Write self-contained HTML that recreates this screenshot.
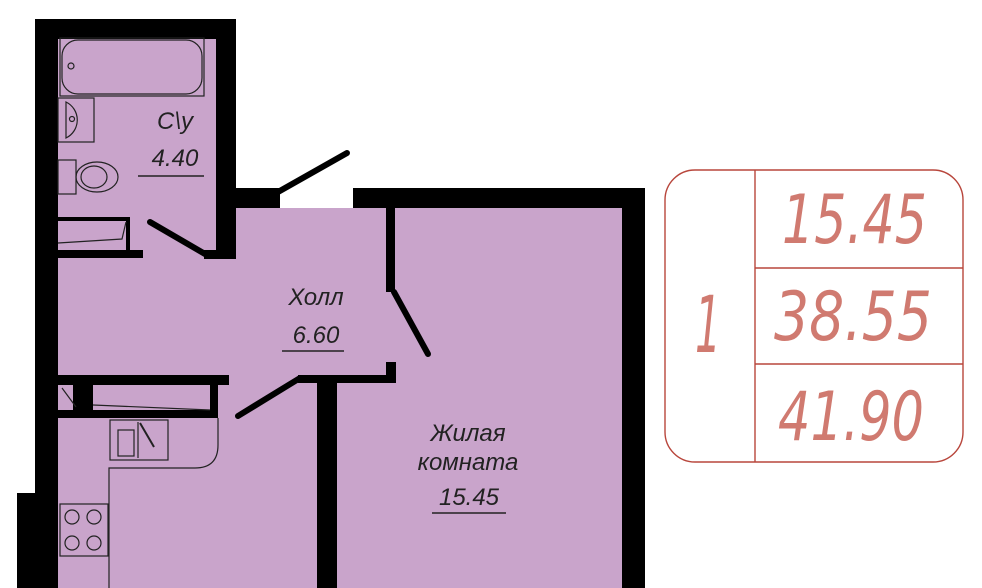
<!DOCTYPE html>
<html><head><meta charset="utf-8"><style>
html,body{margin:0;padding:0;background:#fff;}
svg{display:block}
.t{font-family:"Liberation Sans","DejaVu Sans",sans-serif;font-style:italic;fill:#222;}
.r{font-family:"DejaVu Sans","Liberation Sans",sans-serif;font-weight:200;font-style:oblique;fill:#d07a70;}
</style></head><body>
<svg width="982" height="588" viewBox="0 0 982 588" xmlns="http://www.w3.org/2000/svg">
<rect width="982" height="588" fill="#fff"/>
<path d="M58 38 H216 V208 H622 V588 H58 Z" fill="#c9a4cb"/>
<g fill="#000">
<rect x="35" y="19" width="23" height="569"/>
<rect x="17" y="493" width="41" height="95"/>
<rect x="35" y="19" width="201" height="20"/>
<rect x="216" y="19" width="20" height="240"/>
<rect x="216" y="188" width="64" height="20"/>
<rect x="353" y="188" width="292" height="20"/>
<rect x="622" y="188" width="23" height="400"/>
<rect x="386" y="208" width="9" height="84"/>
<rect x="58" y="250" width="85" height="8"/>
<rect x="204" y="250" width="32" height="9"/>
<rect x="58" y="375" width="171" height="10"/>
<rect x="58" y="410" width="160" height="8"/>
<rect x="73" y="385" width="20" height="25"/>
<rect x="210" y="385" width="8" height="25"/>
<rect x="298" y="375" width="98" height="8"/>
<rect x="386" y="362" width="10" height="21"/>
<rect x="317" y="383" width="20" height="205"/>
<rect x="58" y="217" width="72" height="4"/>
<rect x="126" y="217" width="4" height="35"/>
</g>
<g stroke="#000" stroke-width="6" stroke-linecap="round">
<line x1="278" y1="192" x2="347" y2="153"/>
<line x1="150" y1="222" x2="205" y2="254"/>
<line x1="394" y1="292" x2="428" y2="354"/>
<line x1="238" y1="416" x2="300" y2="378"/>
</g>
<g stroke="#222" stroke-width="1.2" fill="none">
<rect x="62" y="40" width="140" height="54" rx="16"/>
<rect x="60" y="38" width="144" height="58"/>
<circle cx="71" cy="66" r="3"/>
<rect x="58" y="98" width="36" height="44"/>
<path d="M66 102 A20 20 0 0 1 66 138 Z"/>
<circle cx="72" cy="119" r="2.5"/>
<rect x="58" y="160" width="18" height="34"/>
<ellipse cx="97" cy="177" rx="21" ry="15"/>
<ellipse cx="94" cy="177" rx="13" ry="11"/>
<path d="M58 243 L122 239 L126 222"/>
<path d="M62 388 L76 407 M93 405 L210 410"/>
<path d="M218 418 V445 Q218 468 195 468 H109 V588"/>
<rect x="110" y="420" width="58" height="40"/>
<line x1="138" y1="422" x2="138" y2="458"/>
<rect x="118" y="430" width="16" height="26"/>
<rect x="60" y="504" width="48" height="52"/>
<circle cx="72" cy="517" r="7"/><circle cx="94" cy="517" r="7"/>
<circle cx="72" cy="543" r="7"/><circle cx="94" cy="543" r="7"/>
</g>
<line x1="140" y1="423" x2="154" y2="447" stroke="#222" stroke-width="2"/>
<text class="t" x="175" y="129" font-size="24" text-anchor="middle">C\y</text>
<text class="t" x="175" y="166" font-size="24" text-anchor="middle">4.40</text>
<line x1="138" y1="176" x2="204" y2="176" stroke="#222" stroke-width="1.5"/>
<text class="t" x="316" y="305" font-size="24" text-anchor="middle">Холл</text>
<text class="t" x="316" y="343" font-size="24" text-anchor="middle">6.60</text>
<line x1="282" y1="351" x2="344" y2="351" stroke="#222" stroke-width="1.5"/>
<text class="t" x="468" y="441" font-size="24" text-anchor="middle">Жилая</text>
<text class="t" x="468" y="470" font-size="24" text-anchor="middle">комната</text>
<text class="t" x="469" y="505" font-size="24" text-anchor="middle">15.45</text>
<line x1="432" y1="513" x2="506" y2="513" stroke="#222" stroke-width="1.5"/>
<g stroke="#b8463c" stroke-width="1.4" fill="none">
<rect x="665" y="170" width="298" height="292" rx="30"/>
<line x1="755" y1="170" x2="755" y2="462"/>
<line x1="755" y1="268" x2="963" y2="268"/>
<line x1="755" y1="364" x2="963" y2="364"/>
</g>
<text class="r" x="695" y="352" font-size="78" textLength="26" lengthAdjust="spacingAndGlyphs">1</text>
<text class="r" x="782" y="243" font-size="68" textLength="145" lengthAdjust="spacingAndGlyphs">15.45</text>
<text class="r" x="774" y="340" font-size="68" textLength="158" lengthAdjust="spacingAndGlyphs">38.55</text>
<text class="r" x="778" y="440" font-size="68" textLength="146" lengthAdjust="spacingAndGlyphs">41.90</text>
</svg>
</body></html>
